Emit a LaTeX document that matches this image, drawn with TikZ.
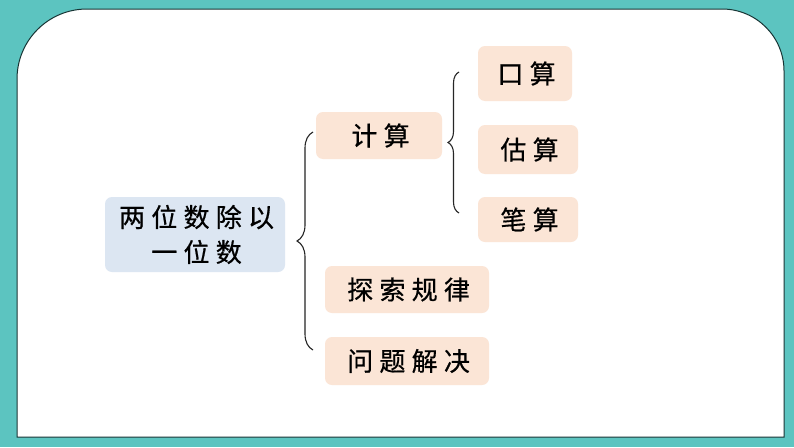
\documentclass[tikz,border=0pt]{standalone}
\usepackage{fontspec}
\newfontfamily\cjk[LetterSpace=24,FakeBold=0.6]{Noto Sans CJK SC}
\newcommand\lsp{\hspace{0.12em}}
\usetikzlibrary{decorations.pathreplacing}

\definecolor{teal1}{RGB}{92,196,192}
\definecolor{peach}{RGB}{251,229,214}
\definecolor{paleblue}{RGB}{220,230,242}
\definecolor{rimline}{RGB}{22,52,52}

\begin{document}
\begin{tikzpicture}[x=1pt,y=-1pt]

      \useasboundingbox (0,0) rectangle (794,447);
      \fill[teal1] (0,0) rectangle (794,447);
      \draw[rimline,line width=1pt,fill=white] (17pt,-437pt) -- (17pt,-79pt)
        arc[start angle=180,end angle=90,radius=70pt] -- (722pt,-9pt)
        arc[start angle=90,end angle=0,radius=62pt] -- (784pt,-437pt) -- cycle;

      \begin{scope}[every node/.style={rectangle,rounded corners=7pt,inner sep=0pt,
          align=center,font=\cjk\fontsize{26}{35}\selectfont,fill=peach}]
        \node[fill=paleblue,minimum width=180,minimum height=75] (root) at (195,234.5) {\lsp 两位数除以\\\lsp 一位数};
        \node[minimum width=126,minimum height=47] (calc)    at (379,135.5) {\lsp 计算};
        \node[minimum width=94,minimum height=55]  (oral)    at (525,73.5)  {\lsp 口算};
        \node[minimum width=100,minimum height=49] (est)     at (528,149.5) {\lsp 估算};
        \node[minimum width=100,minimum height=45] (written) at (528,219.5) {\lsp 笔算};
        \node[minimum width=164,minimum height=47] (rule)    at (407,289.5) {\lsp 探索规律};
        \node[minimum width=164,minimum height=48] (prob)    at (407,361)   {\lsp 问题解决};
      \end{scope}

      \coordinate (b1top) at (313,132);
      \coordinate (b1bot) at (313,350);
      \coordinate (b2top) at (459,72);
      \coordinate (b2bot) at (459,213);

      \begin{scope}[every path/.style={draw=black!85,line width=1.1pt,decorate}]
        \path[decoration={brace,amplitude=16pt}] (b1bot) -- (b1top);
        \path[decoration={brace,amplitude=11pt}] (b2bot) -- (b2top);
      \end{scope}

    \end{tikzpicture}
\end{document}
